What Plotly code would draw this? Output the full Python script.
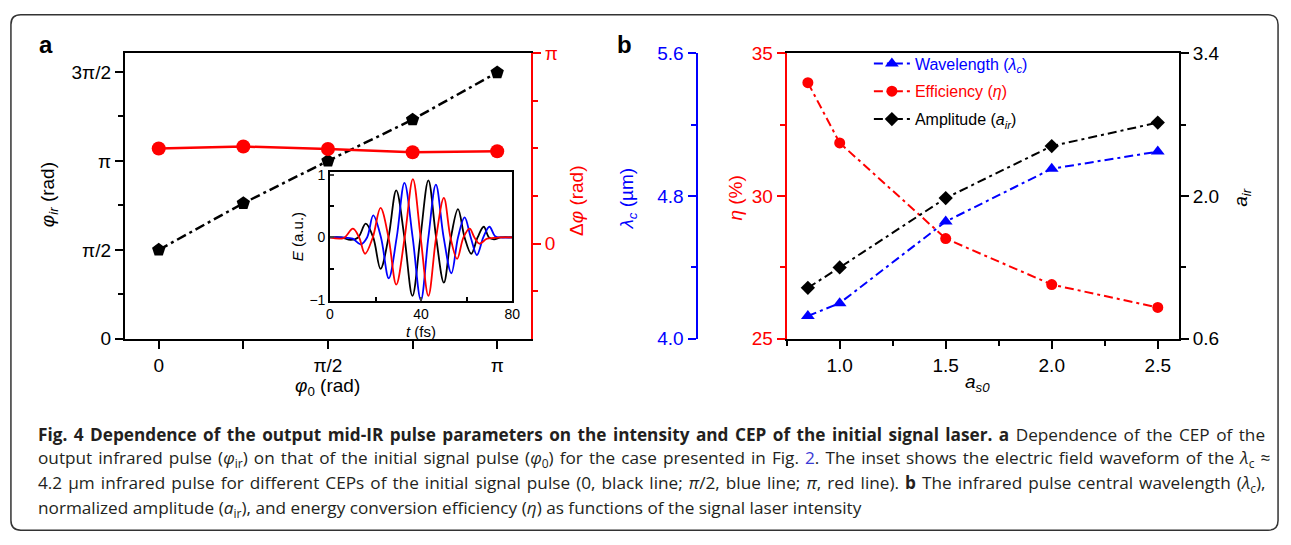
import math
import plotly.graph_objects as go

W, H = 1291, 545
PI = math.pi

# ---------------- data: panel a ----------------
phi0 = [0, PI / 4, PI / 2, 3 * PI / 4, PI]
phi_ir_over_pi = [0.50, 0.762, 1.00, 1.232, 1.497]
dphi_over_pi = [0.50, 0.51, 0.497, 0.48, 0.485]
phi_ir = [v * PI for v in phi_ir_over_pi]
dphi = [v * PI for v in dphi_over_pi]

# inset waveforms (extrema and zero crossings)
t_black = [0, 5, 9.1, 12.4, 15.7, 19.0, 22.2, 25.7, 29.1, 32.7, 36.2, 39.7, 43.2, 46.6, 50.0, 53.1,
           56.2, 59.1, 62.0, 64.8, 67.5, 69.8, 72, 75, 80]
E_black = [0, 0, -0.04, 0, 0.22, 0, -0.50, 0, 0.75, 0, -0.93, 0, 0.91, 0, -0.72, 0,
           0.45, 0, -0.26, 0, 0.17, 0, -0.03, 0, 0]
t_blue = [0, 6, 10, 13.5, 16.3, 19.0, 22.4, 25.8, 29.3, 32.7, 36.3, 39.9, 43.2, 46.5, 49.9, 53.3,
          56.2, 59.1, 61.8, 64.5, 67.3, 70.0, 72.5, 75, 80]
E_blue = [0, 0, -0.02, -0.11, 0, 0.35, 0, -0.65, 0, 0.87, 0, -1.0, 0, 0.84, 0, -0.57,
          0, 0.32, 0, -0.28, 0, 0.17, 0.02, 0, 0]
t_red = [0, 6, 10.1, 12.8, 15.4, 18.8, 22.2, 25.7, 29.1, 32.8, 36.4, 39.8, 43.2, 46.6, 50.0, 52.9,
         55.8, 58.6, 61.3, 63.4, 65.6, 69, 75, 80]
E_red = [0, -0.01, 0.14, 0, -0.26, 0, 0.47, 0, -0.75, 0, 0.93, 0, -0.93, 0, 0.63, 0,
         -0.34, 0, 0.14, 0, -0.1, -0.02, 0, 0]

# ---------------- data: panel b ----------------
a_s0 = [0.85, 1.0, 1.5, 2.0, 2.5]
wavelength = [4.128, 4.20, 4.657, 4.953, 5.049]
efficiency = [33.97, 31.86, 28.51, 26.9, 26.1]
amplitude = [1.10, 1.30, 1.98, 2.49, 2.72]

# tick labels
a_ytick_vals = [0, PI / 2, PI, 3 * PI / 2]
a_ytick_text = ["0", "π/2", "π", "3π/2"]
a_xtick_vals = [0, PI / 2, PI]
a_xtick_text = ["0", "π/2", "π"]
a_y2tick_vals = [0, PI]
a_y2tick_text = ["0", "π"]

BLUE = "#0000ff"
RED = "#ff0000"
BLACK = "#000000"
FONT = "Liberation Sans, Arial, sans-serif"
TS = 19


def fx(p):
    return p / W


def fy(p):
    return 1 - p / H


fig = go.Figure()

# panel a
fig.add_trace(go.Scatter(x=phi0, y=phi_ir, xaxis="x", yaxis="y", mode="lines+markers",
                         line=dict(color=BLACK, width=2.5, dash="10px,4px,3px,4px"),
                         marker=dict(symbol="pentagon", size=14, color=BLACK), showlegend=False))
fig.add_trace(go.Scatter(x=phi0, y=dphi, xaxis="x", yaxis="y2", mode="lines+markers",
                         line=dict(color=RED, width=2.5),
                         marker=dict(symbol="circle", size=14, color=RED), showlegend=False))

# inset
for tt, ee, cc in [(t_black, E_black, BLACK), (t_blue, E_blue, BLUE), (t_red, E_red, RED)]:
    fig.add_trace(go.Scatter(x=tt, y=ee, xaxis="x2", yaxis="y3", mode="lines",
                             line=dict(color=cc, width=1.8, shape="spline", smoothing=1.0),
                             showlegend=False))

# panel b
dd = "9px,4px,3px,4px"
fig.add_trace(go.Scatter(x=a_s0, y=wavelength, xaxis="x3", yaxis="y5", mode="lines+markers",
                         name='<span style="color:#0000ff">Wavelength (<i>λ<sub>c</sub></i>)</span>',
                         legendgroup="g1",
                         line=dict(color=BLUE, width=2, dash=dd),
                         marker=dict(symbol="triangle-up", size=12, color=BLUE)))
fig.add_trace(go.Scatter(x=a_s0, y=efficiency, xaxis="x3", yaxis="y4", mode="lines+markers",
                         name='<span style="color:#ff0000">Efficiency (<i>η</i>)</span>',
                         legendgroup="g2",
                         line=dict(color=RED, width=2, dash=dd),
                         marker=dict(symbol="circle", size=11, color=RED)))
fig.add_trace(go.Scatter(x=a_s0, y=amplitude, xaxis="x3", yaxis="y6", mode="lines+markers",
                         name='Amplitude (<i>a<sub>ir</sub></i>)',
                         legendgroup="g3",
                         line=dict(color=BLACK, width=2, dash=dd),
                         marker=dict(symbol="diamond", size=11, color=BLACK)))

tickfont = dict(family=FONT, size=TS, color=BLACK)
common = dict(showgrid=False, zeroline=False, ticks="outside", ticklen=8, tickwidth=2,
              showline=True, linewidth=2)

ydom = [fy(342), fy(45)]

fig.update_layout(
    width=W, height=H, margin=dict(l=0, r=0, t=0, b=0),
    paper_bgcolor="white", plot_bgcolor="rgba(0,0,0,0)",
    font=dict(family=FONT, size=TS, color=BLACK),
    xaxis=dict(domain=[fx(122), fx(532)], anchor="y", range=[-0.1 * PI, 1.1 * PI],
               tickmode="array", tickvals=a_xtick_vals, ticktext=a_xtick_text,
               linecolor=BLACK, tickcolor=BLACK, mirror=True, tickfont=tickfont,
               minor=dict(tickvals=[PI / 4, 3 * PI / 4], ticks="outside", ticklen=8,
                          tickwidth=2, tickcolor=BLACK), **common),
    yaxis=dict(domain=ydom, anchor="x", range=[0, 3.21 * PI / 2],
               tickmode="array", tickvals=a_ytick_vals, ticktext=a_ytick_text,
               linecolor=BLACK, tickcolor=BLACK, tickfont=tickfont,
               minor=dict(tickvals=[PI / 4, 3 * PI / 4, 5 * PI / 4], ticks="outside",
                          ticklen=5, tickwidth=2, tickcolor=BLACK), **common),
    yaxis2=dict(overlaying="y", anchor="x", side="right", range=[-PI / 2, PI],
                tickmode="array", tickvals=a_y2tick_vals, ticktext=a_y2tick_text,
                linecolor=RED, tickcolor=RED, tickfont=dict(family=FONT, size=TS, color=RED),
                minor=dict(tickvals=[-PI / 4, PI / 4, PI / 2, 3 * PI / 4], ticks="outside",
                           ticklen=5, tickwidth=2, tickcolor=RED), **common),
    xaxis2=dict(domain=[fx(329), fx(513)], anchor="y3", range=[0, 80],
                tickmode="array", tickvals=[0, 40, 80], showgrid=False, zeroline=False,
                ticks="inside", ticklen=4, tickwidth=1.5, showline=True, linewidth=1.5,
                linecolor=BLACK, mirror=True, tickfont=dict(family=FONT, size=14, color=BLACK),
                minor=dict(tickvals=[20, 60], ticks="inside", ticklen=4, tickwidth=1.5,
                           tickcolor=BLACK)),
    yaxis3=dict(domain=[fy(302.5), fy(168)], anchor="x2", range=[-1.01, 1.05],
                tickmode="array", tickvals=[-1, 0, 1], showgrid=False, zeroline=False,
                ticks="inside", ticklen=4, tickwidth=1.5, showline=True, linewidth=1.5,
                linecolor=BLACK, mirror=True, tickfont=dict(family=FONT, size=14, color=BLACK),
                minor=dict(tickvals=[-0.5, 0.5], ticks="inside", ticklen=4, tickwidth=1.5,
                           tickcolor=BLACK)),
    xaxis3=dict(domain=[fx(790), fx(1186)], anchor="y4", range=[0.75, 2.6],
                tickmode="array", tickvals=[1.0, 1.5, 2.0, 2.5], ticktext=["1.0", "1.5", "2.0", "2.5"],
                linecolor=BLACK, tickcolor=BLACK, mirror=True, tickfont=tickfont,
                minor=dict(tickvals=[0.75, 1.25, 1.75, 2.25], ticks="outside", ticklen=5,
                           tickwidth=2, tickcolor=BLACK), **common),
    yaxis4=dict(domain=ydom, anchor="x3", side="left", range=[25, 35],
                tickmode="array", tickvals=[25, 30, 35],
                linecolor=RED, tickcolor=RED, tickfont=dict(family=FONT, size=TS, color=RED),
                minor=dict(tickvals=[27.5, 32.5], ticks="outside", ticklen=5, tickwidth=2,
                           tickcolor=RED), **common),
    yaxis5=dict(overlaying="y4", anchor="free", position=fx(699), side="left", range=[4.0, 5.6],
                tickmode="array", tickvals=[4.0, 4.8, 5.6], ticktext=["4.0", "4.8", "5.6"],
                linecolor=BLUE, tickcolor=BLUE, tickfont=dict(family=FONT, size=TS, color=BLUE),
                minor=dict(tickvals=[4.4, 5.2], ticks="outside", ticklen=5, tickwidth=2,
                           tickcolor=BLUE), **common),
    yaxis6=dict(overlaying="y4", anchor="x3", side="right", range=[0.6, 3.4],
                tickmode="array", tickvals=[0.6, 2.0, 3.4], ticktext=["0.6", "2.0", "3.4"],
                linecolor=BLACK, tickcolor=BLACK, tickfont=tickfont,
                minor=dict(tickvals=[1.3, 2.7], ticks="outside", ticklen=5, tickwidth=2,
                           tickcolor=BLACK), **common),
    legend=dict(x=fx(873), y=fy(38), xanchor="left", yanchor="top",
                bgcolor="rgba(0,0,0,0)", font=dict(family=FONT, size=16, color=BLACK),
                tracegroupgap=4, itemwidth=36),
    showlegend=True,
)

ann = []


def add_text(x, y, text, size=TS, color=BLACK, angle=0, xanchor="center", family=FONT):
    ann.append(dict(x=fx(x), y=fy(y), xref="paper", yref="paper", text=text, showarrow=False,
                    font=dict(family=family, size=size, color=color), textangle=angle,
                    xanchor=xanchor, yanchor="middle"))


add_text(42, 36, "<b>a</b>", size=24)
add_text(626, 36, "<b>b</b>", size=24)
add_text(45, 192, "<i>φ<sub>ir</sub></i> (rad)", angle=-90)
add_text(578, 198, "Δ<i>φ</i> (rad)", color=RED, angle=-90)
add_text(327, 392, "<i>φ</i><sub>0</sub> (rad)")
add_text(297, 236, "<i>E</i> (a.u.)", size=15, angle=-90)
add_text(421, 334, "<i>t</i> (fs)", size=15)
add_text(630, 196, "<i>λ<sub>c</sub></i> (µm)", color=BLUE, angle=-90)
add_text(738, 196, "<i>η</i> (%)", color=RED, angle=-90)
add_text(1250, 195, "<i>a<sub>ir</sub></i>", angle=-90)
add_text(983, 388, "<i>a<sub>s0</sub></i>")

CAP = "Open Sans, Noto Sans, sans-serif"
cap_lines = [
    "<b>Fig. 4 Dependence of the output mid-IR pulse parameters on the intensity and CEP of the initial signal laser. a</b> Dependence of the CEP of the",
    "output infrared pulse (<i>φ</i><sub>ir</sub>) on that of the initial signal pulse (<i>φ</i><sub>0</sub>) for the case presented in Fig. <span style='color:#3a3ad6'>2</span>. The inset shows the electric field waveform of the <i>λ</i><sub>c</sub> ≈",
    "4.2 µm infrared pulse for different CEPs of the initial signal pulse (0, black line; <i>π</i>/2, blue line; <i>π</i>, red line). <b>b</b> The infrared pulse central wavelength (<i>λ</i><sub>c</sub>),",
    "normalized amplitude (<i>a</i><sub>ir</sub>), and energy conversion efficiency (<i>η</i>) as functions of the signal laser intensity",
]
cap_spacing = ["2px", "1.6px", "1.6px", "0px"]
for i, line in enumerate(cap_lines):
    txt = f"<span style='word-spacing:{cap_spacing[i]}'>{line}</span>"
    add_text(32, 441 + 26 * i, txt, size=17.2, color="#231f20", xanchor="left", family=CAP)

fig.update_layout(annotations=ann)

# rounded border
L, R, T, B, r = 7, 1286, 5, 541, 10
path = (f"M {fx(L + r)},{fy(T)} L {fx(R - r)},{fy(T)} Q {fx(R)},{fy(T)} {fx(R)},{fy(T + r)} "
        f"L {fx(R)},{fy(B - r)} Q {fx(R)},{fy(B)} {fx(R - r)},{fy(B)} "
        f"L {fx(L + r)},{fy(B)} Q {fx(L)},{fy(B)} {fx(L)},{fy(B - r)} "
        f"L {fx(L)},{fy(T + r)} Q {fx(L)},{fy(T)} {fx(L + r)},{fy(T)} Z")
fig.add_shape(type="path", path=path, xref="paper", yref="paper",
              line=dict(color="#333333", width=1.5), layer="below")

fig.write_html("out.html")
